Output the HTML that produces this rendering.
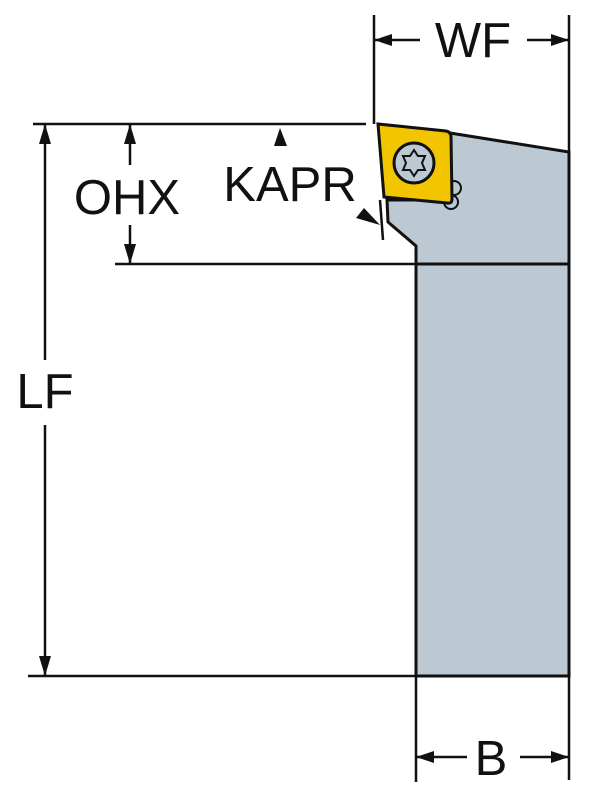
<!DOCTYPE html>
<html><head><style>body{margin:0;background:#fff}svg{display:block}</style></head><body>
<svg width="600" height="799" viewBox="0 0 600 799" xmlns="http://www.w3.org/2000/svg" font-family="Liberation Sans, sans-serif">
<path d="M450,133 L569,152 L569,676 L416,676 L416,246 L388,222 L387,200 L450,200 Z" fill="#bcc9d2" stroke="#111" stroke-width="3"/>
<line x1="416" y1="264" x2="569" y2="264" stroke="#111" stroke-width="3"/>
<circle cx="454" cy="188" r="7" fill="#bcc9d2" stroke="#111" stroke-width="2"/>
<circle cx="451" cy="202" r="7" fill="#bcc9d2" stroke="#111" stroke-width="2"/>
<path d="M378,124 L446,131 Q451,132 451,137 L452,199 Q452,204 447,203 L384,197 Z" fill="#f2c500" stroke="#111" stroke-width="3"/>
<circle cx="414" cy="163" r="20" fill="#bcc9d2" stroke="#111" stroke-width="3"/>
<polygon points="414,150 418,156 425,156 422,163 425,170 418,170 414,176 410,170 403,170 406,163 403,156 410,156" fill="#bcc9d2" stroke="#111" stroke-width="2"/>
<g stroke="#111" stroke-width="2.5" fill="none">
<line x1="374" y1="15" x2="374" y2="124"/>
<line x1="569" y1="15" x2="569" y2="152"/>
<line x1="33" y1="124" x2="366" y2="124"/>
<line x1="115" y1="264" x2="416" y2="264"/>
<line x1="28" y1="676" x2="416" y2="676"/>
<line x1="45" y1="124" x2="45" y2="360"/>
<line x1="45" y1="425" x2="45" y2="676"/>
<line x1="130" y1="124" x2="130" y2="165"/>
<line x1="130" y1="225" x2="130" y2="264"/>
<line x1="380" y1="200" x2="383" y2="240"/>
<line x1="416" y1="676" x2="416" y2="782"/>
<line x1="569" y1="676" x2="569" y2="780"/>
<line x1="374" y1="40" x2="420" y2="40"/>
<line x1="527" y1="40" x2="569" y2="40"/>
<line x1="416" y1="757" x2="467" y2="757"/>
<line x1="520" y1="757" x2="569" y2="757"/>
</g>
<g fill="#111">
<polygon points="374,40 392,34 392,46"/>
<polygon points="569,40 551,34 551,46"/>
<polygon points="416,757 434,751 434,763"/>
<polygon points="569,757 551,751 551,763"/>
<polygon points="45,124 39,144 51,144"/>
<polygon points="45,676 39,656 51,656"/>
<polygon points="130,124 124,144 136,144"/>
<polygon points="130,264 124,244 136,244"/>
<polygon points="280,128 274,146 287,146"/>
<polygon points="380,225 356,218 364,208"/>
</g>
<g font-size="49" fill="#111" text-anchor="middle">
<text x="473" y="57">WF</text>
<text x="127" y="214">OHX</text>
<text x="290" y="201">KAPR</text>
<text x="45" y="408">LF</text>
<text x="491" y="775">B</text>
</g>
</svg>
</body></html>
